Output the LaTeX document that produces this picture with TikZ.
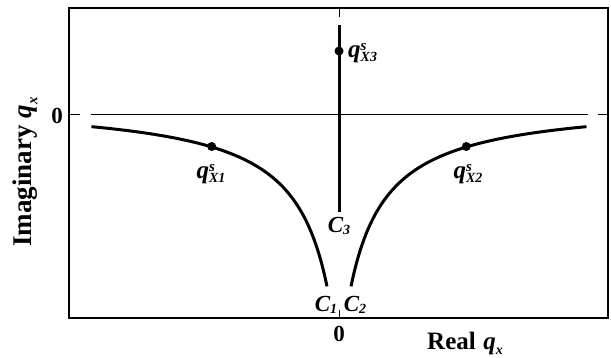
\documentclass[tikz,border=0pt]{standalone}
\usepackage{fontspec}
\setmainfont{Liberation Serif}
\newcommand{\qlab}[1]{{\fontsize{25}{25}\selectfont\bfseries\itshape q}\makebox[0pt][l]{\raisebox{1.55ex}{\fontsize{15}{15}\selectfont\bfseries\itshape s}}\raisebox{-0.85ex}{\fontsize{14}{14}\selectfont\bfseries\itshape #1}}
\newcommand{\clab}[1]{{\fontsize{23}{23}\selectfont\bfseries\itshape C}\raisebox{-0.5ex}{\fontsize{14}{14}\selectfont\bfseries\itshape #1}}
\begin{document}
\begin{tikzpicture}[x=1pt,y=-1pt,
  thin axis/.style={line width=1pt},
  curve/.style={line width=3pt},
  dot/.style={circle,fill=black,inner sep=0pt,minimum size=9pt},
  lab/.style={inner sep=0pt}]
\useasboundingbox (0,0) rectangle (611,358);
% frame
\draw[line width=1.3pt] (69,8) rectangle (608,318);
% horizontal axis
\coordinate (hl0) at (69,115);
\coordinate (hl1) at (80,115);
\coordinate (hm0) at (91,115);
\coordinate (hm1) at (588,115);
\coordinate (hr0) at (598,115);
\coordinate (hr1) at (608,115);
\draw[thin axis] (hl0) -- (hl1);
\draw[thin axis] (hm0) -- (hm1);
\draw[thin axis] (hr0) -- (hr1);
% vertical axis pieces
\coordinate (vt0) at (339,8);
\coordinate (vt1) at (339,17);
\coordinate (vb0) at (339,310);
\coordinate (vb1) at (339,318);
\draw[thin axis] (vt0) -- (vt1);
\draw[thin axis] (vb0) -- (vb1);
\coordinate (c3top) at (339,25);
\coordinate (c3bot) at (339,212);
\draw[curve,line cap=butt] (c3top) -- (c3bot);
% curves: depth = 7110/(o+26.3) - 14.3
\draw[curve] plot[domain=247.5:12,samples=90,smooth] ({339-\x},{115+7110/(\x+26.3)-14.3});
\draw[curve] plot[domain=247.5:12,samples=90,smooth] ({339+\x},{115+7110/(\x+26.3)-14.3});
% dots
\node[dot] (d1) at (211.7,146.5) {};
\node[dot] (d2) at (466.3,146.5) {};
\node[dot] (d3) at (339,51) {};
% labels
\node[lab,anchor=west] (l3) at (348,53) {\qlab{X3}};
\node[lab] (l1) at (211,174) {\qlab{X1}};
\node[lab] (l2) at (468,174) {\qlab{X2}};
\node[lab] (c3) at (339,226) {\clab{3}};
\node[lab] (c1) at (326,305) {\clab{1}};
\node[lab] (c2) at (355,305) {\clab{2}};
\node[lab] (z0) at (339,334) {\fontsize{23}{23}\selectfont\bfseries 0};
\node[lab] (zl) at (57,116) {\fontsize{23}{23}\selectfont\bfseries 0};
\node[lab] (xl) at (465,343) {\fontsize{25}{25}\selectfont\bfseries Real\hspace{0.3em}{\itshape q}\raisebox{-0.45ex}{\fontsize{14}{14}\selectfont\bfseries\itshape x}};
\node[lab,rotate=90] (yl) at (25,172) {\fontsize{27}{27}\selectfont\bfseries Imaginary\hspace{0.25em}{\itshape q}\raisebox{-0.5ex}{\fontsize{15}{15}\selectfont\bfseries\itshape x}};
\end{tikzpicture}
\end{document}
